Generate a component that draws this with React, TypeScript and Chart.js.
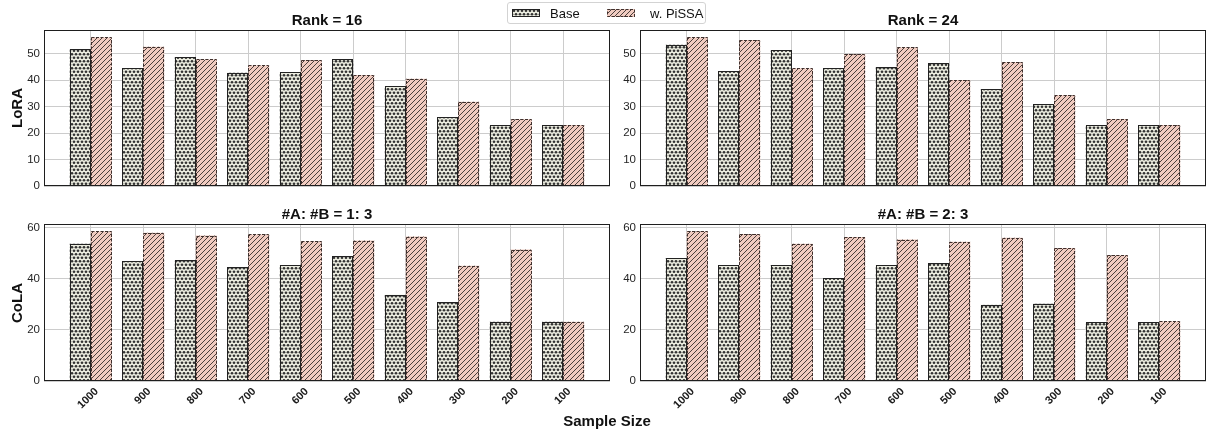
import React, { useEffect, useRef } from "react";
import { Chart, registerables } from "chart.js";

Chart.register(...registerables);

const FONT = "'Liberation Sans', Arial, Helvetica, sans-serif";

// ---- data ----
const sampleSizes = ["1000", "900", "800", "700", "600", "500", "400", "300", "200", "100"];
const loraRank16Base = [51.6, 44.4, 48.6, 42.8, 42.9, 47.8, 37.7, 25.9, 23.0, 23.0];
const loraRank16Pissa = [56.1, 52.6, 47.8, 45.5, 47.5, 41.9, 40.5, 31.8, 25.2, 23.0];
const loraRank24Base = [53.3, 43.3, 51.2, 44.4, 44.8, 46.3, 36.5, 30.8, 23.0, 23.0];
const loraRank24Pissa = [56.1, 55.1, 44.4, 49.8, 52.3, 40.0, 46.7, 34.3, 25.3, 23.0];
const cola13Base = [53.7, 46.9, 47.2, 44.6, 45.4, 48.9, 33.7, 30.9, 23.2, 23.2];
const cola13Pissa = [58.5, 58.0, 56.9, 57.3, 54.6, 54.9, 56.5, 45.1, 51.4, 23.2];
const cola23Base = [48.1, 45.4, 45.4, 40.3, 45.4, 46.1, 29.8, 30.2, 23.0, 23.0];
const cola23Pissa = [58.5, 57.5, 53.7, 56.3, 55.3, 54.5, 56.0, 52.0, 49.2, 23.3];
const loraYTicks = [0, 10, 20, 30, 40, 50];
const colaYTicks = [0, 20, 40, 60];
const loraYMax = 58.9;
const colaYMax = 61.4;
const xMin = -0.89;
const xMax = 9.89;

const BASE_FILL = "#ecede0";
const PISSA_FILL = "#f0cbc0";

function makeDotPattern(ctx: CanvasRenderingContext2D): CanvasPattern {
  const c = document.createElement("canvas");
  c.width = 4;
  c.height = 7;
  const g = c.getContext("2d")!;
  g.fillStyle = BASE_FILL;
  g.fillRect(0, 0, 4, 7);
  g.fillStyle = "#333333";
  const pts = [
    [2, 1.75],
    [0, 5.25],
    [4, 5.25],
  ];
  for (const [x, y] of pts) {
    g.beginPath();
    g.arc(x, y, 1.35, 0, Math.PI * 2);
    g.fill();
  }
  return ctx.createPattern(c, "repeat")!;
}

function makeHatchPattern(ctx: CanvasRenderingContext2D): CanvasPattern {
  const s = 5;
  const c = document.createElement("canvas");
  c.width = s;
  c.height = s;
  const g = c.getContext("2d")!;
  g.fillStyle = PISSA_FILL;
  g.fillRect(0, 0, s, s);
  g.strokeStyle = "#4a3f3c";
  g.lineWidth = 1;
  g.beginPath();
  g.moveTo(0, s);
  g.lineTo(s, 0);
  g.moveTo(-1, 1);
  g.lineTo(1, -1);
  g.moveTo(s - 1, s + 1);
  g.lineTo(s + 1, s - 1);
  g.stroke();
  return ctx.createPattern(c, "repeat")!;
}

const edgePlugin = {
  id: "edgesAndFrame",
  afterDatasetsDraw(chart: any) {
    const ctx: CanvasRenderingContext2D = chart.ctx;
    chart.data.datasets.forEach((_ds: any, di: number) => {
      const meta = chart.getDatasetMeta(di);
      meta.data.forEach((el: any) => {
        const { x, y, base, width } = el.getProps(["x", "y", "base", "width"], true);
        ctx.save();
        ctx.lineWidth = 1;
        if (di === 0) {
          ctx.strokeStyle = "#222222";
          ctx.setLineDash([]);
        } else {
          ctx.strokeStyle = "#40302d";
          ctx.setLineDash([3, 1.5]);
        }
        const l = Math.round(x - width / 2) + 0.5;
        const r = Math.round(x + width / 2) - 0.5;
        const t = Math.round(y) + 0.5;
        const b = Math.round(base) - 0.5;
        ctx.strokeRect(l, t, r - l, b - t);
        ctx.restore();
      });
    });
    const a = chart.chartArea;
    ctx.save();
    ctx.strokeStyle = "#1e1e1e";
    ctx.lineWidth = 1;
    ctx.setLineDash([]);
    ctx.strokeRect(Math.round(a.left) + 0.5, Math.round(a.top) + 0.5, Math.round(a.right - a.left) - 1, Math.round(a.bottom - a.top) - 1);
    ctx.restore();
  },
};

type PanelProps = {
  base: number[];
  pissa: number[];
  yTicks: number[];
  yMax: number;
  showX: boolean;
  left: number;
  top: number;
  width: number;
  height: number;
  yWidth: number;
  xHeight: number;
  padTop: number;
  padRight: number;
};

function Panel(p: PanelProps) {
  const ref = useRef<HTMLCanvasElement>(null);
  useEffect(() => {
    const canvas = ref.current!;
    const ctx = canvas.getContext("2d")!;
    const chart = new Chart(ctx, {
      type: "bar",
      data: {
        datasets: [
          {
            label: "Base",
            data: p.base.map((v, i) => ({ x: i, y: v })),
            backgroundColor: makeDotPattern(ctx),
            borderWidth: 0,
          },
          {
            label: "w. PiSSA",
            data: p.pissa.map((v, i) => ({ x: i, y: v })),
            backgroundColor: makeHatchPattern(ctx),
            borderWidth: 0,
          },
        ],
      } as any,
      options: {
        animation: false,
        responsive: false,
        maintainAspectRatio: false,
        events: [],
        layout: { padding: { top: p.padTop, right: p.padRight, left: 0, bottom: 0 } },
        datasets: { bar: { categoryPercentage: 0.8, barPercentage: 1.0 } } as any,
        plugins: {
          legend: { display: false },
          tooltip: { enabled: false },
          title: { display: false },
        },
        scales: {
          x: {
            type: "linear",
            min: xMin,
            max: xMax,
            offset: false,
            grid: { color: "#cccccc", lineWidth: 1, offset: false, drawTicks: false } as any,
            border: { display: false },
            afterBuildTicks: (s: any) => {
              s.ticks = sampleSizes.map((_, i) => ({ value: i }));
            },
            ticks: {
              display: p.showX,
              autoSkip: false,
              minRotation: 45,
              maxRotation: 45,
              padding: 4,
              labelOffset: 6,
              color: "#1a1a1a",
              font: { family: FONT, size: 11, weight: "bold" },
              callback: (v: any) => sampleSizes[v as number] ?? "",
            },
            afterFit: (s: any) => {
              s.height = p.xHeight;
              s.paddingLeft = 0;
              s.paddingRight = 0;
            },
          } as any,
          y: {
            type: "linear",
            min: 0,
            max: p.yMax,
            grid: { color: "#cccccc", lineWidth: 1, drawTicks: false },
            border: { display: false },
            afterBuildTicks: (s: any) => {
              s.ticks = p.yTicks.map((v) => ({ value: v }));
            },
            ticks: {
              padding: 4,
              color: "#262626",
              font: { family: FONT, size: 11.5 },
              callback: (v: any) => String(v),
            },
            afterFit: (s: any) => {
              s.width = p.yWidth;
              s.paddingTop = 0;
              s.paddingBottom = 0;
            },
          } as any,
        },
      },
      plugins: [edgePlugin],
    });
    return () => chart.destroy();
  }, []);
  return (
    <canvas
      ref={ref}
      width={p.width}
      height={p.height}
      style={{ position: "absolute", left: p.left, top: p.top, width: p.width, height: p.height }}
    />
  );
}

function Swatch({ kind }: { kind: "dot" | "hatch" }) {
  const ref = useRef<HTMLCanvasElement>(null);
  useEffect(() => {
    const c = ref.current!;
    const g = c.getContext("2d")!;
    g.clearRect(0, 0, c.width, c.height);
    g.fillStyle = kind === "dot" ? makeDotPattern(g) : makeHatchPattern(g);
    g.fillRect(0, 0, c.width, c.height);
    g.lineWidth = 1;
    g.strokeStyle = kind === "dot" ? "#222222" : "#40302d";
    g.setLineDash(kind === "dot" ? [] : [3, 1.5]);
    g.strokeRect(0.5, 0.5, c.width - 1, c.height - 1);
  }, []);
  return <canvas ref={ref} width={28} height={8} style={{ position: "absolute", left: kind === "dot" ? 4 : 99, top: 6 }} />;
}

const textStyle = (x: number, y: number, size: number, bold: boolean, rotate = 0): React.CSSProperties => ({
  position: "absolute",
  left: x,
  top: y,
  transform: `translate(-50%, -50%) rotate(${rotate}deg)`,
  fontFamily: FONT,
  fontSize: size,
  fontWeight: bold ? "bold" : "normal",
  color: "#111",
  whiteSpace: "nowrap",
  lineHeight: 1,
});

export default function App() {
  return (
    <div
      style={{
        position: "absolute",
        left: 0,
        top: 0,
        width: 1208,
        height: 432,
        background: "#ffffff",
        overflow: "hidden",
      }}
    >
      <Panel base={loraRank16Base} pissa={loraRank16Pissa} yTicks={loraYTicks} yMax={loraYMax} showX={false}
        left={0} top={0} width={612} height={200} yWidth={44} xHeight={14} padTop={30} padRight={2} />
      <Panel base={loraRank24Base} pissa={loraRank24Pissa} yTicks={loraYTicks} yMax={loraYMax} showX={false}
        left={612} top={0} width={596} height={200} yWidth={28} xHeight={14} padTop={30} padRight={2} />
      <Panel base={cola13Base} pissa={cola13Pissa} yTicks={colaYTicks} yMax={colaYMax} showX={true}
        left={0} top={200} width={612} height={232} yWidth={44} xHeight={51} padTop={24} padRight={2} />
      <Panel base={cola23Base} pissa={cola23Pissa} yTicks={colaYTicks} yMax={colaYMax} showX={true}
        left={612} top={200} width={596} height={232} yWidth={28} xHeight={51} padTop={24} padRight={2} />

      <div style={textStyle(327, 18.5, 15, true)}>Rank = 16</div>
      <div style={textStyle(923, 18.5, 15, true)}>Rank = 24</div>
      <div style={textStyle(327, 212.5, 15, true)}>#A: #B = 1: 3</div>
      <div style={textStyle(923, 212.5, 15, true)}>#A: #B = 2: 3</div>
      <div style={textStyle(16, 108, 15, true, -90)}>LoRA</div>
      <div style={textStyle(16, 302.5, 15, true, -90)}>CoLA</div>
      <div style={textStyle(607, 420, 15, true)}>Sample Size</div>

      <div
        style={{
          position: "absolute",
          left: 507,
          top: 2,
          width: 197,
          height: 20,
          border: "1px solid #d3d3d3",
          borderRadius: 3,
          background: "rgba(255,255,255,0.85)",
        }}
      >
        <Swatch kind="dot" />
        <div style={{ position: "absolute", left: 42, top: 3.5, fontFamily: FONT, fontSize: 13, color: "#111", lineHeight: 1 }}>Base</div>
        <Swatch kind="hatch" />
        <div style={{ position: "absolute", left: 142, top: 3.5, fontFamily: FONT, fontSize: 13, color: "#111", lineHeight: 1, whiteSpace: "nowrap" }}>w. PiSSA</div>
      </div>
    </div>
  );
}
